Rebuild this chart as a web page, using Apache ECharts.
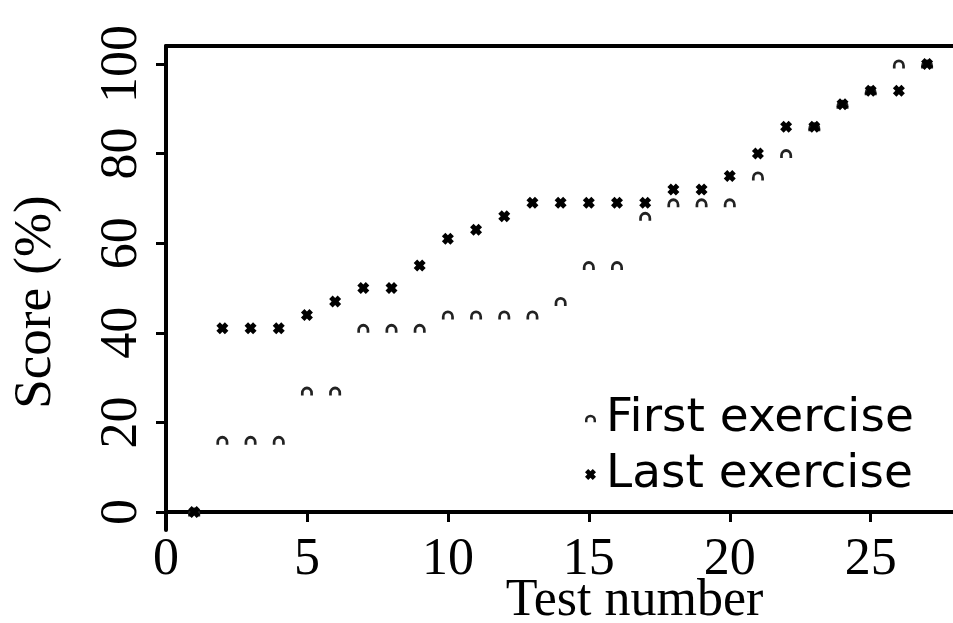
<!DOCTYPE html>
<html>
<head>
<meta charset="utf-8">
<script src="https://cdn.jsdelivr.net/npm/echarts@6/dist/echarts.min.js"></script>
<style>
html,body{margin:0;padding:0;background:#fff;}
#chart{width:953px;height:623px;}
</style>
</head>
<body>
<div id="chart"></div>
<script>
var testNumbers = [1,2,3,4,5,6,7,8,9,10,11,12,13,14,15,16,17,18,19,20,21,22,23,24,25,26,27];
var firstScores = [0,16,16,16,27,27,41,41,41,44,44,44,44,47,55,55,66,69,69,69,75,80,86,91,94,100,100];
var lastScores  = [0,41,41,41,44,47,50,50,55,61,63,66,69,69,69,69,69,72,72,75,80,86,86,91,94,94,100];
var xTicks = [0,5,10,15,20,25];
var yTicks = [0,20,40,60,80,100];
var seriesNames = ['First exercise','Last exercise'];

var arcSymbol = 'path://M0,10 A10,10 0 0 1 20,10 L20,14 L15.5,14 L15.5,10 A5.5,5.5 0 0 0 4.5,10 L4.5,14 L0,14 Z';
var crossSymbol = 'path://M3.5,0 L6,2.5 L8.5,0 L12,3.5 L9.5,6 L12,8.5 L8.5,12 L6,9.5 L3.5,12 L0,8.5 L2.5,6 L0,3.5 Z';

function pairs(xs, ys){ return xs.map(function(x,i){ return [x, ys[i]]; }); }

var serif = '"Liberation Serif", "Times New Roman", serif';
var chart = echarts.init(document.getElementById('chart'));
chart.setOption({
  animation: false,
  backgroundColor: '#fff',
  grid: {left: 166, top: 46, right: 0, bottom: 93, containLabel: false, outerBoundsMode: 'none'},
  legend: {
    orient: 'vertical', left: 580, top: 390,
    itemWidth: 11, itemHeight: 11, itemGap: 9,
    textStyle: {fontFamily: '"DejaVu Sans", sans-serif', fontSize: 47, color: '#000', lineHeight: 47, padding: [0,0,0,5]},
    data: seriesNames
  },
  xAxis: [{
    type: 'value', min: 0, max: 27.92,
    name: 'Test number', nameLocation: 'middle', nameGap: 45, nameMoveOverlap: false,
    nameTextStyle: {fontFamily: serif, fontSize: 52, color: '#000', padding: [0,0,0,150]},
    axisLine: {show: true, lineStyle: {color: '#000', width: 4}},
    axisTick: {show: true, length: 10, lineStyle: {color: '#000', width: 3}, customValues: xTicks},
    axisLabel: {fontFamily: serif, fontSize: 52, color: '#000', margin: 4, customValues: xTicks},
    splitLine: {show: false}
  },{
    type: 'value', min: 0, max: 27.92, position: 'top',
    axisLine: {show: true, onZero: false, lineStyle: {color: '#000', width: 4}},
    axisTick: {show: false}, axisLabel: {show: false}, splitLine: {show: false}
  }],
  yAxis: {
    type: 'value', min: -4, max: 104,
    name: 'Score (%)', nameLocation: 'middle', nameGap: 103, nameRotate: 90, nameMoveOverlap: false,
    nameTextStyle: {fontFamily: serif, fontSize: 53, color: '#000', padding: [0,28,0,0]},
    axisLine: {show: true, onZero: false, lineStyle: {color: '#000', width: 4}},
    axisTick: {show: true, length: 10, lineStyle: {color: '#000', width: 3}, customValues: yTicks},
    axisLabel: {fontFamily: serif, fontSize: 52, color: '#000', rotate: 90, margin: 18, customValues: yTicks},
    splitLine: {show: false}
  },
  series: [{
    name: seriesNames[0], type: 'scatter', xAxisIndex: 0,
    symbol: arcSymbol, symbolSize: [12, 9],
    itemStyle: {color: '#222', opacity: 1},
    data: pairs(testNumbers, firstScores), z: 2
  },{
    name: seriesNames[1], type: 'scatter', xAxisIndex: 0,
    symbol: crossSymbol, symbolSize: 12,
    itemStyle: {color: '#000', opacity: 1},
    data: pairs(testNumbers, lastScores), z: 3
  }]
});
</script>
</body>
</html>
